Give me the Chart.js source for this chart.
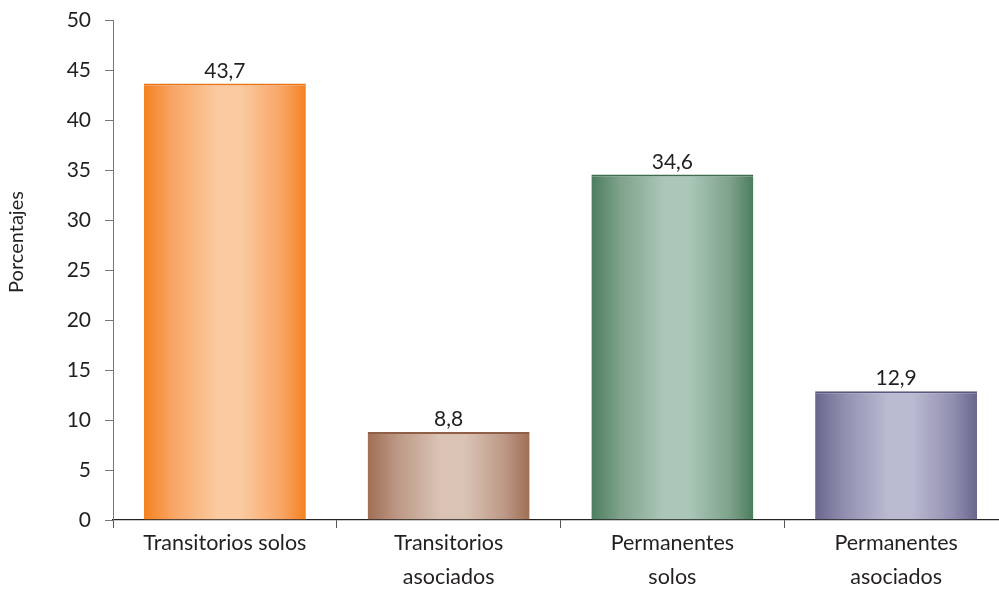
<!DOCTYPE html>
<html>
<head>
<meta charset="utf-8">
<script src="https://cdn.jsdelivr.net/npm/chart.js@4"></script>
<style>
  html, body { margin: 0; padding: 0; background: #fff; overflow: hidden; }
  #wrap { width: 1008px; height: 596px; position: relative; top: -6px; }
</style>
</head>
<body>
<div id="wrap"><canvas id="chart"></canvas></div>
<script>
const categories = ['Transitorios solos', ['Transitorios', 'asociados'], ['Permanentes', 'solos'], ['Permanentes', 'asociados']];
const values = [43.7, 8.8, 34.6, 12.9];
const yTicks = [0, 5, 10, 15, 20, 25, 30, 35, 40, 45, 50];
const yTitle = 'Porcentajes';

// edge, mid, centre colours for each bar's cylinder shading
const shades = [
  ['#f5821f', '#f8a565', '#facaa0'],
  ['#a06e55', '#bc9784', '#dac3b5'],
  ['#4c7d5e', '#7fa38c', '#abc7b8'],
  ['#68668c', '#918fb0', '#babad1']
];
const tops = ['#e8761a', '#8f5f48', '#3f6c50', '#5a5880'];

const FONT = 'Lato, "Open Sans", sans-serif';

function barFill(ctx) {
  const chart = ctx.chart;
  const xs = chart.scales.x;
  const i = ctx.dataIndex;
  const s = shades[i];
  if (!xs) return s[0];
  const c = xs.getPixelForValue(i);
  const w = (xs.right - xs.left) / categories.length * 0.724;
  if (!isFinite(c) || !isFinite(w) || w <= 0) return s[0];
  const g = chart.ctx.createLinearGradient(c - w / 2, 0, c + w / 2, 0);
  g.addColorStop(0, s[0]);
  g.addColorStop(0.18, s[1]);
  g.addColorStop(0.45, s[2]);
  g.addColorStop(0.6, s[2]);
  g.addColorStop(0.85, s[1]);
  g.addColorStop(1, s[0]);
  return g;
}

const valueLabels = {
  id: 'valueLabels',
  afterDatasetsDraw(chart) {
    const ctx = chart.ctx;
    const meta = chart.getDatasetMeta(0);
    ctx.save();
    ctx.font = '21px ' + FONT;
    ctx.fillStyle = '#231f20';
    ctx.textAlign = 'center';
    ctx.textBaseline = 'bottom';
    meta.data.forEach((bar, i) => {
      ctx.fillText(values[i].toFixed(1).replace('.', ','), bar.x, bar.y - 2);
    });
    ctx.restore();
  }
};

// axis title sits a bit above the middle of the axis in the original
const axisTitle = {
  id: 'axisTitle',
  afterDraw(chart) {
    const ctx = chart.ctx;
    ctx.save();
    ctx.translate(17, 248);
    ctx.rotate(-Math.PI / 2);
    ctx.font = '20px ' + FONT;
    ctx.fillStyle = '#231f20';
    ctx.textAlign = 'center';
    ctx.textBaseline = 'middle';
    ctx.fillText(yTitle, 0, 0);
    ctx.restore();
  }
};

new Chart(document.getElementById('chart'), {
  type: 'bar',
  data: {
    labels: categories,
    datasets: [{
      data: values,
      backgroundColor: barFill,
      borderColor: tops,
      borderWidth: { top: 2, left: 0, right: 0, bottom: 0 },
      borderSkipped: 'bottom',
      barPercentage: 0.724,
      categoryPercentage: 1
    }]
  },
  options: {
    responsive: true,
    maintainAspectRatio: false,
    animation: false,
    layout: { padding: { top: 15, right: 0, left: 0, bottom: 0 } },
    plugins: {
      legend: { display: false },
      tooltip: { enabled: false }
    },
    scales: {
      x: {
        offset: true,
        grid: { offset: true, drawOnChartArea: false, drawTicks: true, tickLength: 8, color: '#555' },
        border: { color: '#222', width: 1.3 },
        ticks: { color: '#231f20', font: { family: FONT, size: 21.5, lineHeight: 1.58 }, padding: -2, maxRotation: 0, autoSkip: false },
        afterFit(scale) { scale.height = 70; }
      },
      y: {
        min: 0,
        max: 50,
        afterBuildTicks(scale) { scale.ticks = yTicks.map(v => ({ value: v })); },
        grid: { drawOnChartArea: false, drawTicks: true, tickLength: 8, color: '#777' },
        border: { color: '#777', width: 1 },
        ticks: { color: '#231f20', font: { family: FONT, size: 21 }, padding: 14 },
        afterFit(scale) { scale.width = 113; }
      }
    }
  },
  plugins: [valueLabels, axisTitle]
});
</script>
</body>
</html>
